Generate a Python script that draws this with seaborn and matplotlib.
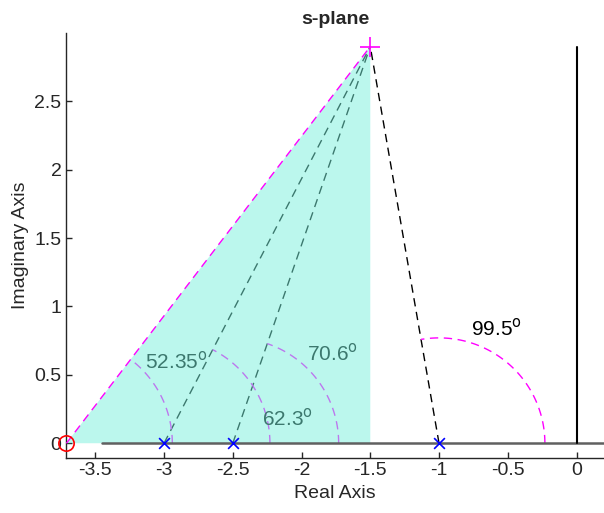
import numpy as np
import seaborn as sns
import matplotlib.pyplot as plt

# s-plane geometry
zero_re = [-3.71]
pole_re = [-3.0, -2.5, -1.0]
target = (-1.5, 2.9)
angle_text = ['52.35', '62.3', '70.6', '99.5']
text_pos = [(-3.14, 0.60), (-2.29, 0.18), (-1.96, 0.66), (-0.77, 0.84)]
xticks = [-3.5, -3, -2.5, -2, -1.5, -1, -0.5, 0]
xticklabels = ['-3.5', '-3', '-2.5', '-2', '-1.5', '-1', '-0.5', '0']
yticks = [0, 0.5, 1, 1.5, 2, 2.5]
yticklabels = ['0', '0.5', '1', '1.5', '2', '2.5']
arc_r = 0.77

sns.set_style('white')
plt.rcParams['font.family'] = ['Liberation Sans', 'DejaVu Sans']

fig = plt.figure(figsize=(6.04, 5.13), dpi=100)
ax = fig.add_axes([0.110, 0.108, 0.89, 0.828])

tx, ty = target
dash = (6, 4)

# lines from poles to the target point
for p in pole_re:
    ax.plot([p, tx], [0, ty], color='black', lw=1.0, dashes=dash, zorder=1)

# angle arcs
centers = zero_re + pole_re
for c in centers:
    th = np.linspace(0, np.arctan2(ty, tx - c), 100)
    ax.plot(c + arc_r * np.cos(th), arc_r * np.sin(th), color='magenta',
            lw=1.0, dashes=dash, zorder=1)

for (x, y), s in zip(text_pos, angle_text):
    ax.text(x, y, s + r'$^\mathrm{o}$', fontsize=15, color='black',
            va='center', ha='left', zorder=2)

# shaded triangle on top
ax.fill([zero_re[0], tx, tx], [0, ty, 0], color='#78f0dc', alpha=0.5,
        lw=0, zorder=3)

ax.plot([zero_re[0], tx], [0, ty], color='magenta', lw=1.0, dashes=dash, zorder=4)
ax.plot([-3.45, 0.3], [0, 0], color='#606060', lw=1.8, zorder=4)
ax.plot([0, 0], [0, ty], color='black', lw=1.5, zorder=4)

sns.scatterplot(x=pole_re, y=[0] * len(pole_re), marker='x', color='blue',
                s=60, linewidth=1.2, ax=ax, zorder=5)
ax.plot(zero_re, [0], 'o', ms=11, mfc='none', mec='red', mew=1.2,
        zorder=5, clip_on=False)
ax.plot([tx], [ty], '+', ms=14, color='magenta', mew=1.2, zorder=5)

ax.set_xlim(-3.71, 0.2)
ax.set_ylim(-0.105, 3.0)
ax.set_xticks(xticks)
ax.set_xticklabels(xticklabels)
ax.set_yticks(yticks)
ax.set_yticklabels(yticklabels)
ax.tick_params(direction='in', length=4, width=1, colors='#262626',
               labelsize=14, bottom=True, left=True)
for s in ['top', 'right']:
    ax.spines[s].set_visible(False)
for s in ['left', 'bottom']:
    ax.spines[s].set_color('#262626')
    ax.spines[s].set_linewidth(1.0)

ax.set_xlabel('Real Axis', fontsize=14, color='#262626', labelpad=4)
ax.set_ylabel('Imaginary Axis', fontsize=14, color='#262626', labelpad=4)
ax.set_title('s-plane', fontsize=14, fontweight='bold', x=0.5, pad=6)

fig.savefig('out.png', dpi=100)
